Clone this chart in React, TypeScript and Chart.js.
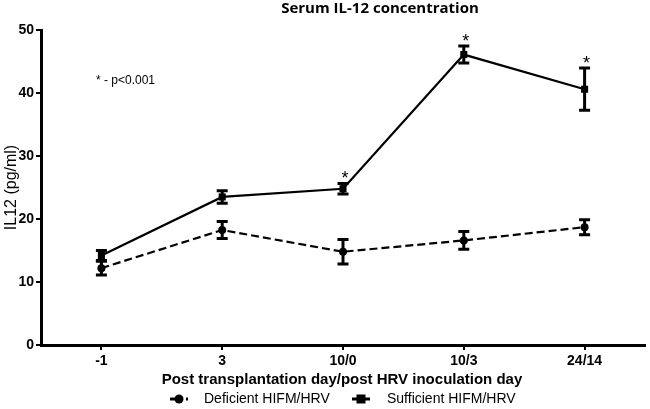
import React, { useEffect, useRef } from "react";
import { Chart, registerables } from "chart.js";

Chart.register(...registerables);

const categories = ["-1", "3", "10/0", "10/3", "24/14"];
const deficient = [12.2, 18.25, 14.8, 16.6, 18.7];
const deficientErr = [1.1, 1.35, 1.95, 1.4, 1.2];
const sufficient = [14.2, 23.5, 24.8, 46.1, 40.6];
const sufficientErr = [0.8, 1.0, 0.85, 1.35, 3.35];
const significant = [false, false, true, true, true];

const titleText = "Serum IL-12 concentration";
const xTitle = "Post transplantation day/post HRV inoculation day";
const yTitle = "IL12 (pg/ml)";
const noteText = "* - p<0.001";
const legendLabels = ["Deficient HIFM/HRV", "Sufficient HIFM/HRV"];

const errorBarPlugin = {
  id: "errorBars",
  afterDatasetsDraw(chart: any) {
    const ctx = chart.ctx;
    const y = chart.scales.y;
    const errs = [deficientErr, sufficientErr];
    ctx.save();
    ctx.strokeStyle = "#000";
    chart.data.datasets.forEach((ds: any, di: number) => {
      const meta = chart.getDatasetMeta(di);
      meta.data.forEach((pt: any, i: number) => {
        const v = ds.data[i];
        const e = errs[di][i];
        const yt = y.getPixelForValue(v + e);
        const yb = y.getPixelForValue(v - e);
        const x = pt.x;
        ctx.lineWidth = 3;
        ctx.beginPath();
        ctx.moveTo(x, yt);
        ctx.lineTo(x, yb);
        ctx.stroke();
        ctx.beginPath();
        ctx.moveTo(x - 5.5, yt);
        ctx.lineTo(x + 5.5, yt);
        ctx.moveTo(x - 5.5, yb);
        ctx.lineTo(x + 5.5, yb);
        ctx.stroke();
      });
    });
    // significance stars above sufficient series
    const meta = chart.getDatasetMeta(1);
    ctx.fillStyle = "#000";
    ctx.font = "18px 'Liberation Sans', Arial, sans-serif";
    ctx.textAlign = "center";
    ctx.textBaseline = "alphabetic";
    significant.forEach((s, i) => {
      if (!s) return;
      const x = meta.data[i].x;
      const yt = y.getPixelForValue(sufficient[i] + sufficientErr[i]);
      ctx.fillText("*", x + 2, yt + 1);
    });
    ctx.restore();
  },
  afterDraw(chart: any) {
    const ctx = chart.ctx;
    const area = chart.chartArea;
    ctx.save();
    ctx.fillStyle = "#000";
    // main title
    ctx.font = "bold 15px 'Open Sans', Lato, sans-serif";
    ctx.textAlign = "center";
    ctx.textBaseline = "middle";
    ctx.fillText(titleText, 380, 9);
    // x title
    ctx.font = "bold 15px 'Liberation Sans', Arial, sans-serif";
    ctx.fillText(xTitle, (area.left + area.right) / 2 - 1, 380);
    // y title
    ctx.save();
    ctx.translate(12, (area.top + area.bottom) / 2);
    ctx.rotate(-Math.PI / 2);
    ctx.font = "16px 'Liberation Sans', Arial, sans-serif";
    ctx.fillText(yTitle, 0, 0);
    ctx.restore();
    // note
    ctx.font = "12px 'Liberation Sans', Arial, sans-serif";
    ctx.textAlign = "left";
    ctx.fillText(noteText, 96, 81);
    // legend
    const ly = 399;
    const items = [
      { x0: 170, tx: 204, dashed: true, marker: "circle" },
      { x0: 352, tx: 387, dashed: false, marker: "square" },
    ];
    items.forEach((it, k) => {
      ctx.strokeStyle = "#000";
      ctx.lineWidth = 3;
      ctx.setLineDash(it.dashed ? [5, 3] : []);
      ctx.beginPath();
      ctx.moveTo(it.x0, ly);
      ctx.lineTo(it.x0 + 18, ly);
      ctx.stroke();
      ctx.setLineDash([]);
      const cx = it.x0 + 9;
      ctx.beginPath();
      if (it.marker === "circle") {
        ctx.arc(cx, ly, 4.5, 0, Math.PI * 2);
      } else {
        ctx.rect(cx - 4.5, ly - 4.5, 9, 9);
      }
      ctx.fill();
      ctx.font = "14px 'Liberation Sans', Arial, sans-serif";
      ctx.textAlign = "left";
      ctx.textBaseline = "middle";
      ctx.fillText(legendLabels[k], it.tx, ly);
    });
    ctx.restore();
  },
};

export default function App() {
  const ref = useRef<HTMLCanvasElement | null>(null);
  useEffect(() => {
    if (!ref.current) return;
    const chart = new Chart(ref.current, {
      type: "line",
      data: {
        labels: categories,
        datasets: [
          {
            label: legendLabels[0],
            data: deficient,
            borderColor: "#000",
            backgroundColor: "#000",
            borderWidth: 2.2,
            borderDash: [8, 4],
            pointStyle: "circle",
            pointRadius: 4,
            pointBorderWidth: 0,
            tension: 0,
          },
          {
            label: legendLabels[1],
            data: sufficient,
            borderColor: "#000",
            backgroundColor: "#000",
            borderWidth: 2.2,
            pointStyle: "rect",
            pointRadius: 5,
            pointBorderWidth: 0,
            tension: 0,
          },
        ],
      },
      options: {
        responsive: false,
        animation: false,
        layout: { padding: { top: 30, left: 0, right: 0, bottom: 0 } },
        plugins: {
          legend: { display: false },
          title: { display: false },
          tooltip: { enabled: false },
        },
        scales: {
          x: {
            type: "category",
            offset: true,
            afterFit: (s: any) => {
              s.height = 64;
            },
            border: { display: true, color: "#000", width: 3 },
            grid: {
              display: true,
              offset: false,
              drawOnChartArea: false,
              drawTicks: true,
              tickLength: 5,
              lineWidth: 2,
              color: "#000",
            },
            ticks: {
              color: "#000",
              padding: 3,
              font: { family: "'Liberation Sans', Arial, sans-serif", size: 14, weight: "bold" },
            },
          },
          y: {
            min: 0,
            max: 50,
            afterFit: (s: any) => {
              s.width = 41;
            },
            border: { display: true, color: "#000", width: 3 },
            grid: {
              display: true,
              drawOnChartArea: false,
              drawTicks: true,
              tickLength: 5,
              lineWidth: 2,
              color: "#000",
            },
            ticks: {
              stepSize: 10,
              color: "#000",
              padding: 2,
              font: { family: "'Liberation Sans', Arial, sans-serif", size: 14, weight: "bold" },
            },
          },
        },
      },
      plugins: [errorBarPlugin],
    } as any);
    return () => chart.destroy();
  }, []);
  return (
    <div style={{ position: "absolute", left: 0, top: 0, width: 650, height: 409, background: "#fff" }}>
      <canvas ref={ref} width={650} height={409} style={{ width: 650, height: 409 }} />
    </div>
  );
}
